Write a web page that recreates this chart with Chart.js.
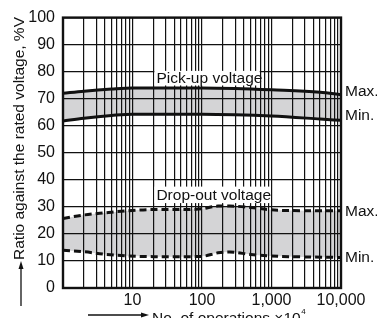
<!DOCTYPE html>
<html>
<head>
<meta charset="utf-8">
<script src="https://cdn.jsdelivr.net/npm/chart.js@4"></script>
<style>
  html, body { margin: 0; padding: 0; background: #fff; }
  #wrap { width: 377px; height: 318px; position: relative; }
</style>
</head>
<body>
<div id="wrap"><canvas id="c" width="377" height="318"></canvas></div>
<script>
// ---- data ----
const pickupX   = [1, 2, 5, 10, 100, 300, 1000, 5000, 10000];
const pickupMax = [72, 72.8, 73.6, 74, 74, 73.8, 73.3, 72.4, 71.5];
const pickupMin = [61.8, 62.8, 63.8, 64.3, 64.3, 64.1, 63.6, 62.5, 62];

const dropX   = [1, 2, 4, 8, 20, 60, 100, 170, 250, 500, 1000, 3000, 10000];
const dropMax = [25.7, 27, 27.8, 28.5, 29, 29, 29.3, 30.3, 30.3, 29.8, 28.9, 28.6, 28.6];
const dropMin = [14, 13.4, 12.5, 11.9, 11.6, 11.6, 11.7, 13, 13.3, 12.4, 11.8, 11.5, 11.3];

const xLabelValues = [10, 100, 1000, 10000];
const xTickLabels  = ['10', '100', '1,000', '10,000'];
const yTickValues  = [0, 10, 20, 30, 40, 50, 60, 70, 80, 90, 100];

const seriesNames = ['Pick-up voltage', 'Drop-out voltage'];
const endLabels   = ['Max.', 'Min.'];
const yTitle = 'Ratio against the rated voltage, %V';
const xTitle = 'No. of operations ×10';
const xTitleSup = '4';

// log grid positions (1..9 × each decade)
const xGridValues = [];
for (let d = 1; d < 10000; d *= 10) for (let m = 1; m < 10; m++) xGridValues.push(m * d);
xGridValues.push(10000);

const pts = (xs, ys) => xs.map((x, i) => ({x: x, y: ys[i]}));
const FILL = '#d4d4d6';
const SANS = "'Liberation Sans', Arial, sans-serif";
const NARROW = "'Liberation Sans Narrow', 'Arial Narrow', 'Liberation Sans', Arial, sans-serif";

const decor = {
  id: 'decor',
  afterDraw(chart) {
    const ctx = chart.ctx, a = chart.chartArea;
    const xs = chart.scales.x, ys = chart.scales.y;
    ctx.save();
    // white label boxes + text
    const boxes = [
      {text: seriesNames[0], x0: 20, x1: 700, yTop: 80.3, yBot: 74.9},
      {text: seriesNames[1], x0: 20, x1: 1000, yTop: 37.5, yBot: 31.4}
    ];
    ctx.font = '15.5px ' + SANS;
    ctx.textBaseline = 'middle';
    ctx.textAlign = 'left';
    boxes.forEach(b => {
      const px0 = xs.getPixelForValue(b.x0) + 1, px1 = xs.getPixelForValue(b.x1) - 1;
      const py0 = ys.getPixelForValue(b.yTop), py1 = ys.getPixelForValue(b.yBot);
      ctx.fillStyle = '#fff';
      ctx.fillRect(px0, py0, px1 - px0, py1 - py0);
      ctx.fillStyle = '#111';
      ctx.fillText(b.text, px0 + 2, (py0 + py1) / 2 + 0.5);
    });
    // frame
    ctx.strokeStyle = '#111';
    ctx.lineWidth = 2.4;
    ctx.strokeRect(a.left, a.top, a.right - a.left, a.bottom - a.top);
    // Max./Min. labels at line ends
    ctx.font = '15.5px ' + SANS;
    ctx.fillStyle = '#111';
    const ends = [[pickupMax, 0, -3], [pickupMin, 1, -5], [dropMax, 0, 1], [dropMin, 1, 0]];
    ends.forEach(([arr, li, off]) => {
      const py = ys.getPixelForValue(arr[arr.length - 1]) + off;
      ctx.fillText(endLabels[li], a.right + 4, py);
    });
    // y title
    ctx.save();
    ctx.translate(20, 138.5);
    ctx.rotate(-Math.PI / 2);
    ctx.textAlign = 'center';
    ctx.textBaseline = 'middle';
    ctx.fillText(yTitle, 0, 0);
    ctx.restore();
    // y arrow
    ctx.lineWidth = 1.3;
    ctx.beginPath(); ctx.moveTo(21, 306); ctx.lineTo(21, 268); ctx.stroke();
    ctx.beginPath(); ctx.moveTo(21, 261); ctx.lineTo(18.5, 269); ctx.lineTo(23.5, 269); ctx.closePath(); ctx.fill();
    // x arrow
    ctx.beginPath(); ctx.moveTo(88, 315); ctx.lineTo(142, 315); ctx.stroke();
    ctx.beginPath(); ctx.moveTo(149, 315); ctx.lineTo(141, 312.5); ctx.lineTo(141, 317.5); ctx.closePath(); ctx.fill();
    // x title
    ctx.textBaseline = 'alphabetic';
    ctx.textAlign = 'left';
    ctx.fillText(xTitle, 152, 322.5);
    const w = ctx.measureText(xTitle).width;
    ctx.font = '8px ' + SANS;
    ctx.fillText(xTitleSup, 152 + w + 0.5, 314);
    ctx.restore();
  }
};

new Chart(document.getElementById('c'), {
  type: 'line',
  data: {
    datasets: [
      {data: pts(pickupX, pickupMax), borderColor: '#111', borderWidth: 3, fill: '+1', backgroundColor: FILL},
      {data: pts(pickupX, pickupMin), borderColor: '#111', borderWidth: 3, fill: false},
      {data: pts(dropX, dropMax), borderColor: '#111', borderWidth: 3, borderDash: [7, 4], fill: '+1', backgroundColor: FILL},
      {data: pts(dropX, dropMin), borderColor: '#111', borderWidth: 3, borderDash: [7, 4], fill: false}
    ]
  },
  options: {
    responsive: false,
    animation: false,
    devicePixelRatio: 1,
    layout: {padding: {left: 0, right: 36, top: 12, bottom: 0}},
    elements: {point: {radius: 0}, line: {cubicInterpolationMode: 'monotone', borderCapStyle: 'butt'}},
    plugins: {legend: {display: false}, tooltip: {enabled: false}, filler: {drawTime: 'beforeDatasetsDraw'}},
    scales: {
      x: {
        type: 'logarithmic', min: 1, max: 10000,
        afterBuildTicks: s => { s.ticks = xGridValues.map(v => ({value: v})); },
        afterFit: s => { s.height = 30; },
        grid: {color: '#111', lineWidth: 1.2, drawTicks: false, z: 1},
        border: {display: false},
        ticks: {
          autoSkip: false, maxRotation: 0, padding: 3, color: '#111',
          font: {family: NARROW, size: 16},
          callback: v => { const i = xLabelValues.indexOf(v); return i >= 0 ? xTickLabels[i] : ''; }
        }
      },
      y: {
        type: 'linear', min: 0, max: 100,
        afterBuildTicks: s => { s.ticks = yTickValues.map(v => ({value: v})); },
        afterFit: s => { s.width = 63; },
        grid: {color: '#111', lineWidth: 1.2, drawTicks: false, z: 1},
        border: {display: false},
        ticks: {padding: 8, color: '#111', font: {family: NARROW, size: 16}}
      }
    }
  },
  plugins: [decor]
});
</script>
</body>
</html>
